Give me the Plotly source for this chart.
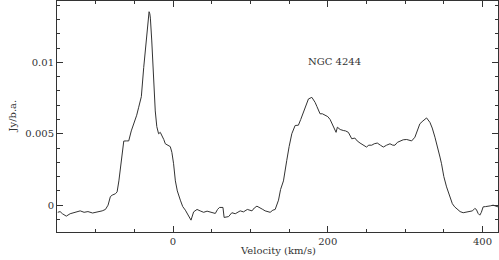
import plotly.graph_objects as go

velocity = [-149, -146, -143, -138, -133, -126, -120, -115, -110, -104, -98, -94, -91.6,
            -87.4, -84, -81, -78.7, -74.5, -72.3, -70, -68, -66, -63.7, -60, -57.3, -54,
            -50.8, -47, -44.4, -41, -37.9, -35.5, -33.6, -32, -31, -30, -29.3, -27.5, -26,
            -24.5, -23, -21, -18.7, -16.5, -14.4, -12, -10, -7, -3.6, -1.5, 0.7, 3, 5.5,
            9.4, 12.5, 15.9, 20, 23.2, 26.6, 31, 35, 39.5, 44, 48, 51, 54.6, 57.5, 60,
            64.5, 66, 71.8, 76, 80.4, 84, 86.8, 91, 96, 102, 105, 108.4, 112.6, 116, 119,
            125.5, 129, 132, 136.3, 139, 142.7, 145, 147, 150, 153.5, 157.8, 162, 165,
            168.5, 172, 175, 179.4, 183.6, 186, 190, 193, 196.5, 200, 203, 207, 210.7,
            212.4, 216, 220, 223, 226.6, 231, 235, 238, 241.7, 246, 250, 253, 256.8, 260,
            264, 268, 271.8, 276, 280.4, 284, 286.8, 290, 294, 297.5, 302, 308.4, 312.6,
            316, 319, 323, 327.7, 332, 335, 338.5, 342, 345, 347, 350, 353.5, 357.8, 361,
            364, 368, 371, 375, 379, 383.6, 387, 390, 392, 394.3, 396.5, 398.5, 400.8, 404,
            407, 410, 413.7, 417, 420]
flux = [-0.0005, -0.00045, -0.0006, -0.00077, -0.0006, -0.0005, -0.0004, -0.0005, -0.00045,
        -0.00055, -0.0005, -0.00045, -0.0004, -0.0003, 0.0, 0.0006, 0.0007, 0.0008, 0.00093,
        0.0017, 0.00267, 0.0037, 0.00449, 0.0045, 0.0045, 0.0052, 0.0057, 0.0063, 0.00686,
        0.0076, 0.00965, 0.0109, 0.01197, 0.0130, 0.01355, 0.0134, 0.0131, 0.0115, 0.0096,
        0.0080, 0.0066, 0.0055, 0.0050, 0.0051, 0.0049, 0.0046, 0.0043, 0.0042, 0.0041,
        0.0037, 0.0029, 0.0017, 0.0010, 0.00035, -0.0001, -0.00035, -0.0007, -0.00105,
        -0.00047, -0.0003, -0.0004, -0.0005, -0.00042, -0.00047, -0.0005, -0.00058, -0.0003,
        -0.00016, -0.00016, -0.00086, -0.0008, -0.00053, -0.0006, -0.0005, -0.0004, -0.00047,
        -0.0003, -0.0004, -0.0002, -0.00007, -0.00023, -0.0003, -0.0004, -0.0005, -0.00035,
        -0.0003, 0.00035, 0.0011, 0.0017, 0.0026, 0.00314, 0.0041, 0.0050, 0.00558, 0.0056,
        0.0060, 0.0065, 0.0070, 0.00744, 0.00755, 0.0072, 0.0069, 0.0064, 0.0064, 0.0063,
        0.0062, 0.0060, 0.00558, 0.0051, 0.00546, 0.0053, 0.00523, 0.0052, 0.0051, 0.00465,
        0.0047, 0.0045, 0.00435, 0.0042, 0.00407, 0.0042, 0.0042, 0.0043, 0.00435, 0.0042,
        0.00407, 0.0042, 0.0043, 0.0042, 0.0042, 0.0044, 0.0045, 0.00458, 0.0046, 0.0045,
        0.00476, 0.0052, 0.0057, 0.0059, 0.00611, 0.0058, 0.0054, 0.00476, 0.0041, 0.00337,
        0.0029, 0.0020, 0.00128, 0.00058, 0.0001, -0.00012, -0.0003, -0.00045, -0.00053,
        -0.0005, -0.00047, -0.0004, -0.00023, -0.0003, -0.00058, -0.0007, -0.0005, -0.00012,
        -0.0001, -0.00009, -0.00005, 0.0, -0.00008, -0.00012]

label_text = "NGC 4244"
label_pos = (209, 0.01004)
x_title = "Velocity (km/s)"
y_title = "Jy/b.a."

font_family = "DejaVu Serif, Liberation Serif, serif"
ink = "#333333"

fig = go.Figure()
fig.add_trace(go.Scatter(x=velocity, y=flux, mode="lines",
                         line=dict(color=ink, width=1), showlegend=False,
                         hoverinfo="skip"))

fig.add_annotation(x=label_pos[0], y=label_pos[1], text=label_text, showarrow=False,
                   font=dict(family=font_family, size=10, color=ink))
fig.add_annotation(x=0.5, y=-0.082, xref="paper", yref="paper", yanchor="middle",
                   text=x_title, showarrow=False,
                   font=dict(family=font_family, size=10, color=ink))
fig.add_annotation(x=-0.085, y=0.5, xref="paper", yref="paper", xanchor="right",
                   text=y_title, showarrow=False, textangle=-90,
                   font=dict(family=font_family, size=10, color=ink))

axis_common = dict(showgrid=False, zeroline=False, showline=True, linecolor=ink,
                   linewidth=1, mirror="allticks", ticks="inside", tickcolor=ink,
                   ticklen=6, tickwidth=1, automargin=False,
                   tickfont=dict(family=font_family, size=10, color=ink))

fig.update_xaxes(range=[-150, 420], tickvals=[0, 200, 400],
                 minor=dict(ticks="inside", dtick=50, tick0=0, ticklen=3, tickcolor=ink),
                 **axis_common)
fig.update_yaxes(range=[-0.00188, 0.0143], tickvals=[0, 0.005, 0.01],
                 ticktext=["0", "0.005", "0.01"],
                 minor=dict(ticks="inside", dtick=0.001, tick0=0, ticklen=3, tickcolor=ink),
                 **axis_common)

fig.update_layout(width=499, height=260, margin=dict(l=57, r=1, t=1, b=28),
                  plot_bgcolor="white", paper_bgcolor="white")

fig.write_html("out.html", config={"displayModeBar": False},
               post_script="document.body.style.margin='0';document.body.style.overflow='hidden';")
